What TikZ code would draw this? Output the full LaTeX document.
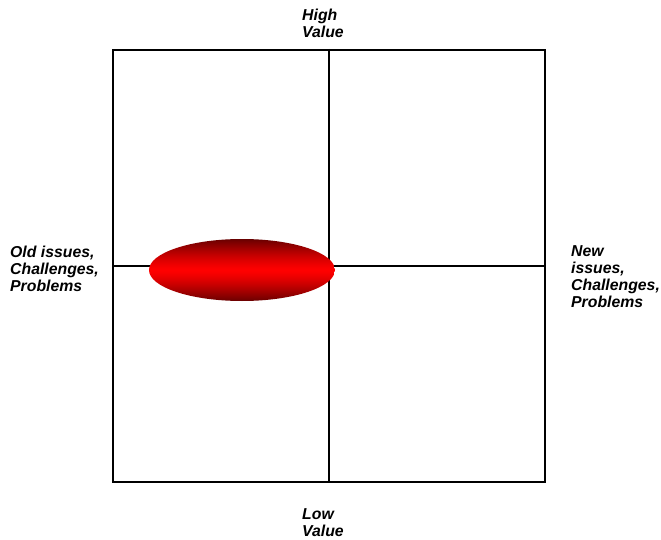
\documentclass[tikz,border=0pt]{standalone}
\usepackage{fontspec}
\usetikzlibrary{shapes.geometric}
\setmainfont{Liberation Sans}
\definecolor{blobdark}{RGB}{105,0,0}
\definecolor{blobred}{RGB}{255,0,0}
\begin{document}
\begin{tikzpicture}[x=1pt,y=-1pt,
  lbl/.style={font=\fontsize{15.8}{17}\selectfont\bfseries\itshape, align=left, inner sep=0pt, anchor=north west},
  gridline/.style={line width=2pt, black}]
\useasboundingbox (0,0) rectangle (661,540);
\node[draw, gridline, minimum width=432pt, minimum height=432pt, inner sep=0pt] (grid) at (329,266) {};
\draw[gridline] (grid.north) -- (grid.south);
\draw[gridline] (grid.west) -- (grid.east);
\node[ellipse, minimum width=186pt, minimum height=62pt, inner sep=0pt] (blob) at (242,270) {};
\begin{scope}
  \clip (blob.center) ellipse [x radius=93, y radius=31];
  \foreach \i in {0,...,62} {
    \pgfmathsetmacro\t{100*(1-(abs(\i-31)/31)^1.3)}
    \fill[blobred!\t!blobdark] (149,239+\i) rectangle (335,240.3+\i);
  }
\end{scope}
\node[lbl] (high) at (302,9) {High\\Value};
\node[lbl] (low) at (302,508) {Low\\Value};
\node[lbl] (old) at (10,246) {Old issues,\\Challenges,\\Problems};
\node[lbl] (new) at (571,245) {New\\issues,\\Challenges,\\Problems};
\end{tikzpicture}
\end{document}
